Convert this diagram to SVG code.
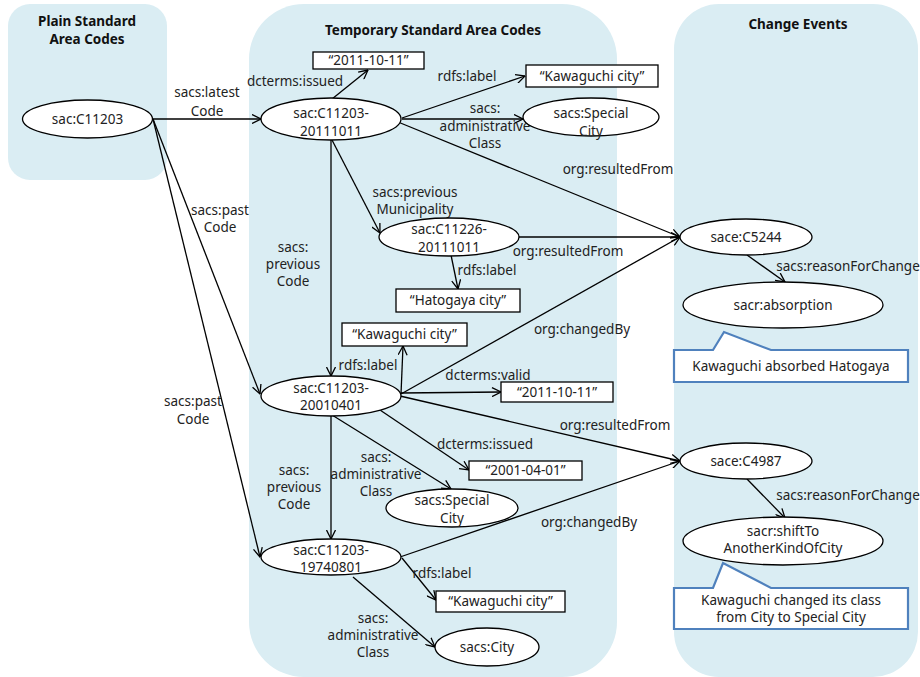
<svg xmlns="http://www.w3.org/2000/svg" width="920" height="677" viewBox="0 0 920 677">
<defs>
<marker id="arr" viewBox="0 0 10 10" refX="9.5" refY="5" markerWidth="10" markerHeight="10" markerUnits="userSpaceOnUse" orient="auto">
<path d="M0.5,0.5 L9.5,5 L0.5,9.5" fill="none" stroke="#000" stroke-width="1.3"/>
</marker>
</defs>
<style>
text{font-family:"Noto Sans","Open Sans","DejaVu Sans",sans-serif;font-size:13.5px;fill:#222;text-anchor:middle}
.t{font-weight:bold;fill:#111}
.panel{fill:#daedf3;stroke:none}
.n{fill:#fff;stroke:#000;stroke-width:1.3}
.e{fill:none;stroke:#000;stroke-width:1.3;marker-end:url(#arr)}
.call{fill:#fff;stroke:#4f81bd;stroke-width:2.2}
</style>
<rect width="920" height="677" fill="#fff"/>
<g id="panels">
<rect class="panel" x="8" y="4" width="159" height="176" rx="22"/>
<rect class="panel" x="249" y="4" width="368" height="673" rx="55"/>
<rect class="panel" x="674" y="4" width="244" height="673" rx="45"/>
<text class="t" x="87" y="26">Plain Standard<tspan x="87" dy="18">Area Codes</tspan></text>
<text class="t" x="433" y="35">Temporary Standard Area Codes</text>
<text class="t" x="798" y="29">Change Events</text>
</g>
<g id="connectors">
<line class="e" x1="153" y1="119" x2="261" y2="119"/>
<text x="207" y="97">sacs:latest<tspan x="207" dy="19">Code</tspan></text>
<line class="e" x1="153" y1="119" x2="260" y2="394"/>
<text x="220" y="215">sacs:past<tspan x="220" dy="17">Code</tspan></text>
<line class="e" x1="153" y1="119" x2="260" y2="557"/>
<text x="193" y="406">sacs:past<tspan x="193" dy="18">Code</tspan></text>
<line class="e" x1="332" y1="99" x2="368" y2="70"/>
<text x="295" y="86">dcterms:issued</text>
<line class="e" x1="402" y1="118" x2="525" y2="76"/>
<text x="467" y="81">rdfs:label</text>
<line class="e" x1="402" y1="119" x2="523" y2="119"/>
<text x="485" y="113">sacs:<tspan x="485" dy="18">administrative</tspan><tspan x="485" dy="17">Class</tspan></text>
<line class="e" x1="398" y1="122" x2="680" y2="237"/>
<text x="618" y="174">org:resultedFrom</text>
<line class="e" x1="332" y1="140" x2="380" y2="233"/>
<text x="415" y="197">sacs:previous<tspan x="415" dy="17">Municipality</tspan></text>
<line class="e" x1="331" y1="140" x2="331" y2="376"/>
<text x="293" y="252">sacs:<tspan x="293" dy="17">previous</tspan><tspan x="293" dy="17">Code</tspan></text>
<line class="e" x1="519" y1="237" x2="680" y2="237"/>
<text x="568" y="256">org:resultedFrom</text>
<line class="e" x1="451" y1="255" x2="458" y2="289"/>
<text x="487" y="275">rdfs:label</text>
<line class="e" x1="401" y1="394" x2="403" y2="346"/>
<text x="368" y="370">rdfs:label</text>
<line class="e" x1="401" y1="394" x2="680" y2="237"/>
<text x="582" y="334">org:changedBy</text>
<line class="e" x1="401" y1="393" x2="501" y2="392"/>
<text x="488" y="380">dcterms:valid</text>
<line class="e" x1="400" y1="396" x2="680" y2="461"/>
<text x="615" y="430">org:resultedFrom</text>
<line class="e" x1="380" y1="410" x2="469" y2="470"/>
<text x="485" y="449">dcterms:issued</text>
<line class="e" x1="332" y1="415" x2="451" y2="489"/>
<text x="376" y="462">sacs:<tspan x="376" dy="17">administrative</tspan><tspan x="376" dy="17">Class</tspan></text>
<line class="e" x1="331" y1="416" x2="331" y2="539"/>
<text x="294" y="475">sacs:<tspan x="294" dy="17">previous</tspan><tspan x="294" dy="17">Code</tspan></text>
<line class="e" x1="400" y1="557" x2="680" y2="461"/>
<text x="589" y="527">org:changedBy</text>
<line class="e" x1="402" y1="558" x2="436" y2="600"/>
<text x="442" y="578">rdfs:label</text>
<line class="e" x1="353" y1="577" x2="435" y2="647"/>
<text x="373" y="623">sacs:<tspan x="373" dy="17">administrative</tspan><tspan x="373" dy="17">Class</tspan></text>
<line class="e" x1="747" y1="255" x2="785" y2="282"/>
<text x="848" y="271">sacs:reasonForChange</text>
<line class="e" x1="747" y1="479" x2="785" y2="518"/>
<text x="848" y="500">sacs:reasonForChange</text>
</g>
<g id="n-c11203"><ellipse class="n" cx="87.5" cy="119" rx="65" ry="19"/><text x="87.5" y="124">sac:C11203</text></g>
<g id="n-c11203-20111011"><ellipse class="n" cx="331" cy="119" rx="70" ry="21"/><text x="331" y="118">sac:C11203-<tspan x="331" dy="18">20111011</tspan></text></g>
<g id="n-issued1"><rect class="n" x="313" y="52" width="111" height="17"/><text x="368.5" y="65">“2011-10-11”</text></g>
<g id="n-label1"><rect class="n" x="526" y="65" width="132" height="22"/><text x="592" y="81">“Kawaguchi city”</text></g>
<g id="n-special1"><ellipse class="n" cx="591" cy="117" rx="68" ry="19"/><text x="591" y="118">sacs:Special<tspan x="591" dy="18">City</tspan></text></g>
<g id="n-c11226"><ellipse class="n" cx="449" cy="237" rx="70" ry="19"/><text x="449" y="234">sac:C11226-<tspan x="449" dy="18">20111011</tspan></text></g>
<g id="n-hatogaya"><rect class="n" x="396" y="289" width="124" height="23"/><text x="458" y="305">“Hatogaya city”</text></g>
<g id="n-label2"><rect class="n" x="342" y="323" width="125" height="23"/><text x="404.5" y="339">“Kawaguchi city”</text></g>
<g id="n-c11203-20010401"><ellipse class="n" cx="331" cy="396" rx="70" ry="20"/><text x="331" y="393">sac:C11203-<tspan x="331" dy="17">20010401</tspan></text></g>
<g id="n-valid"><rect class="n" x="501" y="382" width="112" height="20"/><text x="557" y="397">“2011-10-11”</text></g>
<g id="n-issued2"><rect class="n" x="469" y="461" width="113" height="19"/><text x="525.5" y="475">“2001-04-01”</text></g>
<g id="n-special2"><ellipse class="n" cx="452" cy="508" rx="66" ry="19"/><text x="452" y="505">sacs:Special<tspan x="452" dy="18">City</tspan></text></g>
<g id="n-c11203-19740801"><ellipse class="n" cx="331" cy="557" rx="70" ry="18"/><text x="331" y="555">sac:C11203-<tspan x="331" dy="17">19740801</tspan></text></g>
<g id="n-label3"><rect class="n" x="436" y="591" width="129" height="21"/><text x="500.5" y="606">“Kawaguchi city”</text></g>
<g id="n-city"><ellipse class="n" cx="487" cy="647" rx="52" ry="19"/><text x="487" y="652">sacs:City</text></g>
<g id="n-c5244"><ellipse class="n" cx="746" cy="237" rx="66" ry="18"/><text x="746" y="242">sace:C5244</text></g>
<g id="n-absorption"><ellipse class="n" cx="783" cy="305" rx="100" ry="23"/><text x="783" y="310">sacr:absorption</text></g>
<g id="n-callout1"><path class="call" d="M674,350 L713,350 L724,332 L771,350 L908,350 L908,382 L674,382 Z"/><text x="791" y="371">Kawaguchi absorbed Hatogaya</text></g>
<g id="n-c4987"><ellipse class="n" cx="746" cy="461" rx="66" ry="18"/><text x="746" y="466">sace:C4987</text></g>
<g id="n-shift"><ellipse class="n" cx="783" cy="541" rx="100" ry="24"/><text x="783" y="536">sacr:shiftTo<tspan x="783" dy="17">AnotherKindOfCity</tspan></text></g>
<g id="n-callout2"><path class="call" d="M674,588 L713,588 L723,563 L771,588 L908,588 L908,629 L674,629 Z"/><text x="791" y="605">Kawaguchi changed its class<tspan x="791" dy="17">from City to Special City</tspan></text></g>
</svg>
